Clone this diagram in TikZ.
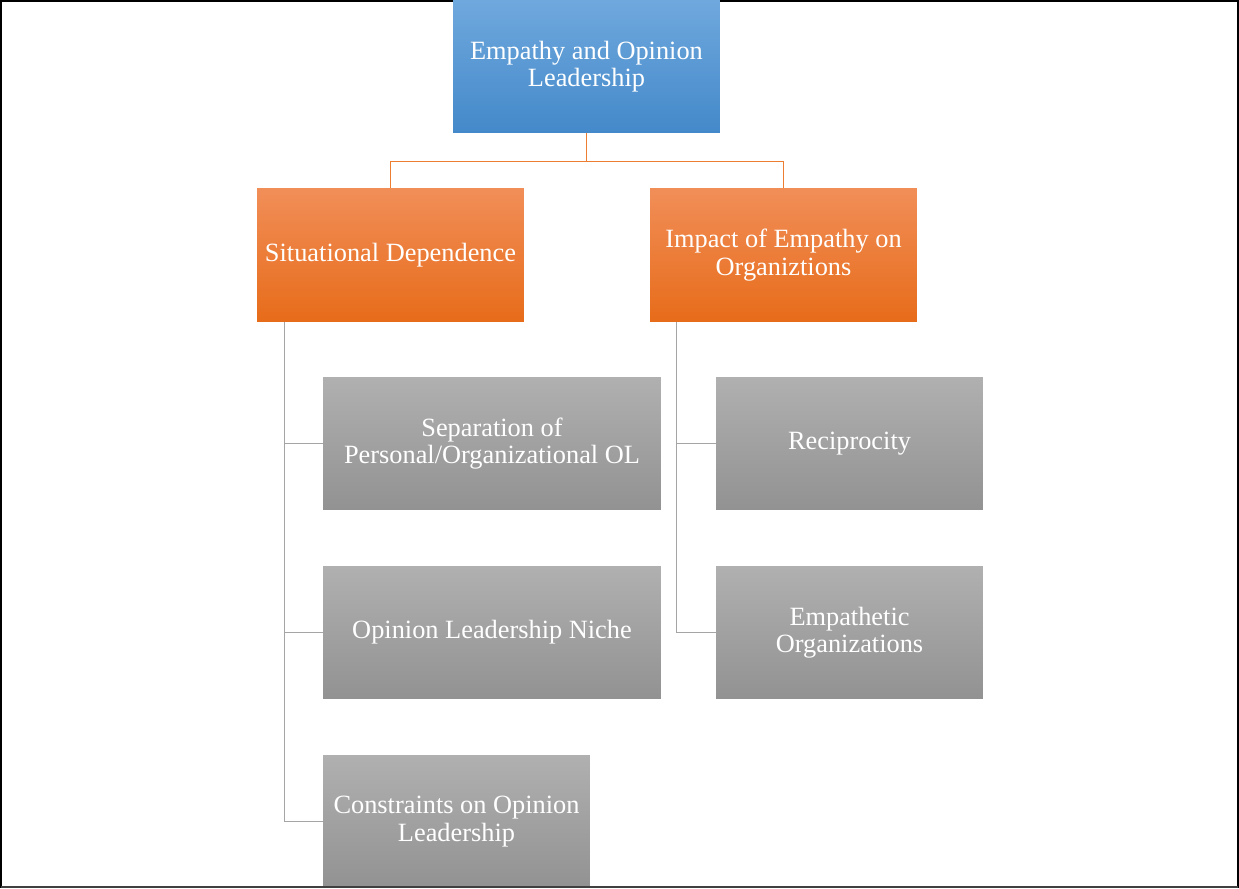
\documentclass[tikz,border=0pt]{standalone}
\usepackage{fontspec}
\setmainfont{Liberation Serif}
\definecolor{blueTop}{RGB}{111,168,221}
\definecolor{blueBot}{RGB}{68,137,202}
\definecolor{orangeTop}{RGB}{241,142,88}
\definecolor{orangeBot}{RGB}{231,108,26}
\definecolor{grayTop}{RGB}{176,176,176}
\definecolor{grayBot}{RGB}{146,146,146}
\definecolor{orangeLine}{RGB}{237,125,49}
\definecolor{grayLine}{RGB}{165,165,165}
\begin{document}
\begin{tikzpicture}[x=0.02cm,y=-0.02cm,
    box/.style={rectangle,inner sep=0,align=center,text=white,
        minimum width=5.34cm,minimum height=2.66cm,shading=axis,
        font=\fontsize{15}{15.6}\selectfont},
    topbox/.style={box,top color=blueTop,bottom color=blueBot},
    midbox/.style={box,top color=orangeTop,bottom color=orangeBot},
    leafbox/.style={box,top color=grayTop,bottom color=grayBot},
    orangelink/.style={draw=orangeLine,line width=0.6pt},
    graylink/.style={draw=grayLine,line width=0.6pt}]
        \useasboundingbox (0,0) rectangle (1239,888);
        \draw[line width=1.2pt] (1,1) rectangle (1238,887);
        % top level
        \node[topbox] (emp) at (586.5,66.5) {Empathy and Opinion\\Leadership};
        \node[midbox] (sit) at (390.5,255) {Situational Dependence};
        \node[midbox] (imp) at (783.5,255) {Impact of Empathy on\\Organiztions};
        % leaves
        \node[leafbox,minimum width=6.76cm] (sep) at (492,443.5) {Separation of\\Personal/Organizational OL};
        \node[leafbox,minimum width=6.76cm] (niche) at (492,632.5) {Opinion Leadership Niche};
        \node[leafbox] (cons) at (456.5,821.5) {Constraints on Opinion\\Leadership};
        \node[leafbox] (rec) at (849.5,443.5) {Reciprocity};
        \node[leafbox] (empo) at (849.5,632.5) {Empathetic\\Organizations};
        \draw[line width=1.2pt,black!75] (1,887) -- (1238,887);
        % links
        \draw[orangelink] (emp.south) -- ++(0,28) -| (sit.north);
        \draw[orangelink] (emp.south) -- ++(0,28) -| (imp.north);
        \draw[graylink] ([xshift=0.56cm]sit.south west) |- (sep.west);
        \draw[graylink] ([xshift=0.56cm]sit.south west) |- (niche.west);
        \draw[graylink] ([xshift=0.56cm]sit.south west) |- (cons.west);
        \draw[graylink] ([xshift=0.54cm]imp.south west) |- (rec.west);
        \draw[graylink] ([xshift=0.54cm]imp.south west) |- (empo.west);
    \end{tikzpicture}
\end{document}
